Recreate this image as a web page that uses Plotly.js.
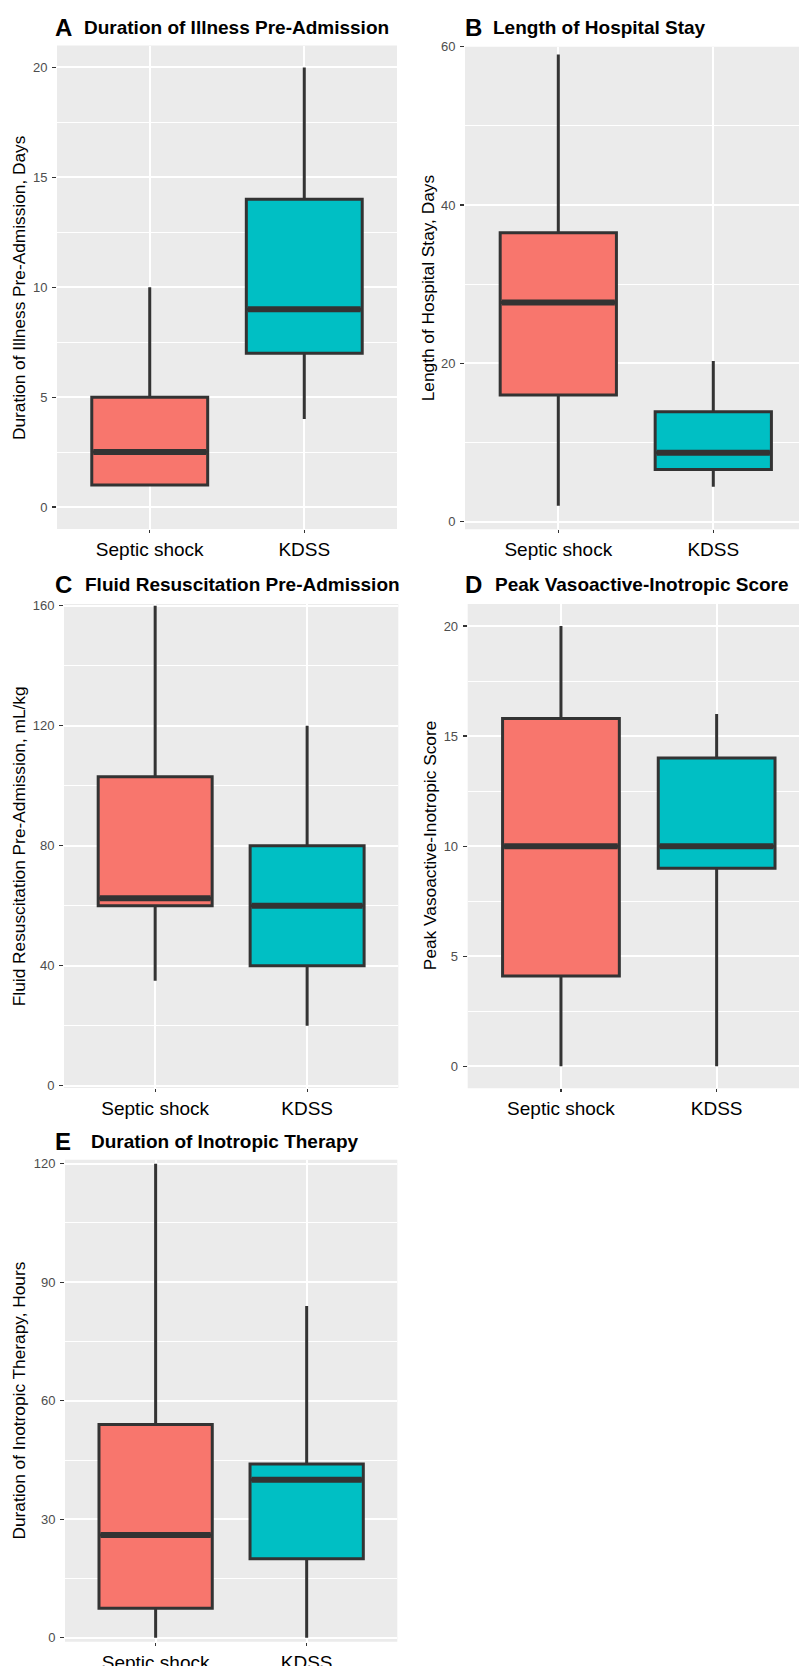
<!DOCTYPE html>
<html>
<head>
<meta charset="utf-8">
<script src="https://cdn.plot.ly/plotly-3.0.1.min.js"></script>
<style>
  html, body { margin: 0; padding: 0; background: #fff; }
  #chart { width: 799px; height: 1666px; }
</style>
</head>
<body>
<div id="chart"></div>
<script>
// ---- Data (min, Q1, median, Q3, max) ----
const groups = ['Septic shock', 'KDSS'];
const groupColors = ['#F8766D', '#00BFC4'];

const illnessSeptic = [1, 1, 2.5, 5, 10];
const illnessKDSS   = [4, 7, 9, 14, 20];

const staySeptic = [2, 16, 27.7, 36.5, 59];
const stayKDSS   = [4.4, 6.6, 8.7, 13.9, 20.3];

const fluidSeptic = [35, 60, 62.5, 103, 160];
const fluidKDSS   = [20, 40, 60, 80, 120];

const visSeptic = [0, 4.1, 10, 15.8, 20];
const visKDSS   = [0, 9, 10, 14, 16];

const inotropeSeptic = [0, 7.5, 26, 54, 120];
const inotropeKDSS   = [0, 20, 40, 44, 84];

const panelLetters = ['A', 'B', 'C', 'D', 'E'];
const panelTitles = [
  'Duration of Illness Pre-Admission',
  'Length of Hospital Stay',
  'Fluid Resuscitation Pre-Admission',
  'Peak Vasoactive-Inotropic Score',
  'Duration of Inotropic Therapy'
];
const yTitles = [
  'Duration of Illness Pre-Admission, Days',
  'Length of Hospital Stay, Days',
  'Fluid Resuscitation Pre-Admission, mL/kg',
  'Peak Vasoactive-Inotropic Score',
  'Duration of Inotropic Therapy, Hours'
];
const yMajorStep = [5, 20, 40, 5, 30];
const panelData = [
  [illnessSeptic, illnessKDSS],
  [staySeptic, stayKDSS],
  [fluidSeptic, fluidKDSS],
  [visSeptic, visKDSS],
  [inotropeSeptic, inotropeKDSS]
];

// ---- Layout geometry (pixels) ----
const W = 799, H = 1666;
const px = v => v / W;
const py = v => 1 - v / H;
const geom = [
  {dx: [57, 397],  dy: [45.5, 529],  xr: [-0.6, 1.6],   yr: [-1, 21],     letterX: 53.3, titleX: 81.7, titleY: 27,   yTitleX: 18.8},
  {dx: [465, 799], dy: [46.7, 529.3],xr: [-0.602, 1.553], yr: [-0.96, 60], letterX: 463.3, titleX: 490.7, titleY: 27, yTitleX: 428.3},
  {dx: [64, 398.3],dy: [604, 1088],  xr: [-0.6, 1.6],   yr: [-0.8, 160.6],letterX: 53.3, titleX: 82.7, titleY: 584,  yTitleX: 19.2},
  {dx: [467.7, 799],dy: [604, 1088.3],xr: [-0.599, 1.529], yr: [-1, 21],  letterX: 462.7, titleX: 493.3, titleY: 584, yTitleX: 430},
  {dx: [65, 397.3],dy: [1159.7, 1641.8], xr: [-0.6, 1.6], yr: [-1, 121],  letterX: 53.3, titleX: 89.3, titleY: 1141.5, yTitleX: 18.8}
];

const FONT = 'Liberation Sans, Arial, Helvetica, sans-serif';
const BOXW = 0.75;
const traces = [];
const layout = {
  width: W, height: H,
  margin: {l: 0, r: 0, t: 0, b: 0},
  paper_bgcolor: '#ffffff',
  showlegend: false,
  boxmode: 'overlay',
  font: {family: FONT},
  annotations: [],
  shapes: []
};

panelData.forEach((pd, p) => {
  const g = geom[p];
  const sfx = p === 0 ? '' : String(p + 1);
  const xa = 'x' + sfx, ya = 'y' + sfx;

  pd.forEach((stats, i) => {
    traces.push({
      type: 'box',
      xaxis: xa, yaxis: ya,
      x: [i],
      lowerfence: [stats[0]],
      q1: [stats[1]],
      median: [stats[2]],
      q3: [stats[3]],
      upperfence: [stats[4]],
      width: BOXW,
      whiskerwidth: 0,
      fillcolor: groupColors[i],
      line: {color: '#333333', width: 3},
      boxpoints: false,
      hoverinfo: 'skip'
    });
    // thicker median bar (ggplot fatten)
    traces.push({
      type: 'scatter', mode: 'lines',
      xaxis: xa, yaxis: ya,
      x: [i - BOXW / 2 + 0.01, i + BOXW / 2 - 0.01],
      y: [stats[2], stats[2]],
      line: {color: '#333333', width: 6},
      hoverinfo: 'skip'
    });
  });

  layout['xaxis' + sfx] = {
    domain: [px(g.dx[0]), px(g.dx[1])],
    anchor: ya,
    range: g.xr,
    tickmode: 'array',
    tickvals: [0, 1],
    ticktext: groups,
    ticks: 'outside', ticklen: 3, tickwidth: 1.2, tickcolor: '#333333',
    tickfont: {family: FONT, size: 19, color: '#000000'},
    showgrid: true, gridcolor: '#ffffff', gridwidth: 2,
    zeroline: false, showline: false, fixedrange: true
  };
  layout['yaxis' + sfx] = {
    domain: [py(g.dy[1]), py(g.dy[0])],
    anchor: xa,
    range: g.yr,
    tick0: 0, dtick: yMajorStep[p],
    ticks: 'outside', ticklen: 4, tickwidth: 1.2, tickcolor: '#333333',
    ticklabelstandoff: 2,
    tickfont: {family: FONT, size: 13, color: '#4D4D4D'},
    showgrid: true, gridcolor: '#ffffff', gridwidth: 2,
    minor: {tick0: 0, dtick: yMajorStep[p] / 2, showgrid: true, gridcolor: '#ffffff', gridwidth: 1},
    zeroline: false, showline: false, fixedrange: true
  };

  layout.shapes.push({
    type: 'rect', xref: xa + ' domain', yref: ya + ' domain',
    x0: 0, x1: 1, y0: 0, y1: 1,
    fillcolor: '#EBEBEB', line: {width: 0}, layer: 'below'
  });

  // panel letter
  layout.annotations.push({
    xref: 'paper', yref: 'paper',
    x: px(g.letterX), y: py(g.titleY),
    xanchor: 'left', yanchor: 'middle',
    text: '<b>' + panelLetters[p] + '</b>',
    showarrow: false,
    font: {family: FONT, size: 24, color: '#000000'}
  });
  // panel title
  layout.annotations.push({
    xref: 'paper', yref: 'paper',
    x: px(g.titleX), y: py(g.titleY),
    xanchor: 'left', yanchor: 'middle',
    text: '<b>' + panelTitles[p] + '</b>',
    showarrow: false,
    font: {family: FONT, size: 19, color: '#000000'}
  });
  // y-axis title
  layout.annotations.push({
    xref: 'paper', yref: 'paper',
    x: px(g.yTitleX), y: py((g.dy[0] + g.dy[1]) / 2),
    xanchor: 'center', yanchor: 'middle',
    textangle: -90,
    text: yTitles[p],
    showarrow: false,
    font: {family: FONT, size: 17.3, color: '#000000'}
  });
});

Plotly.newPlot('chart', traces, layout, {staticPlot: true, displayModeBar: false});
</script>
</body>
</html>
